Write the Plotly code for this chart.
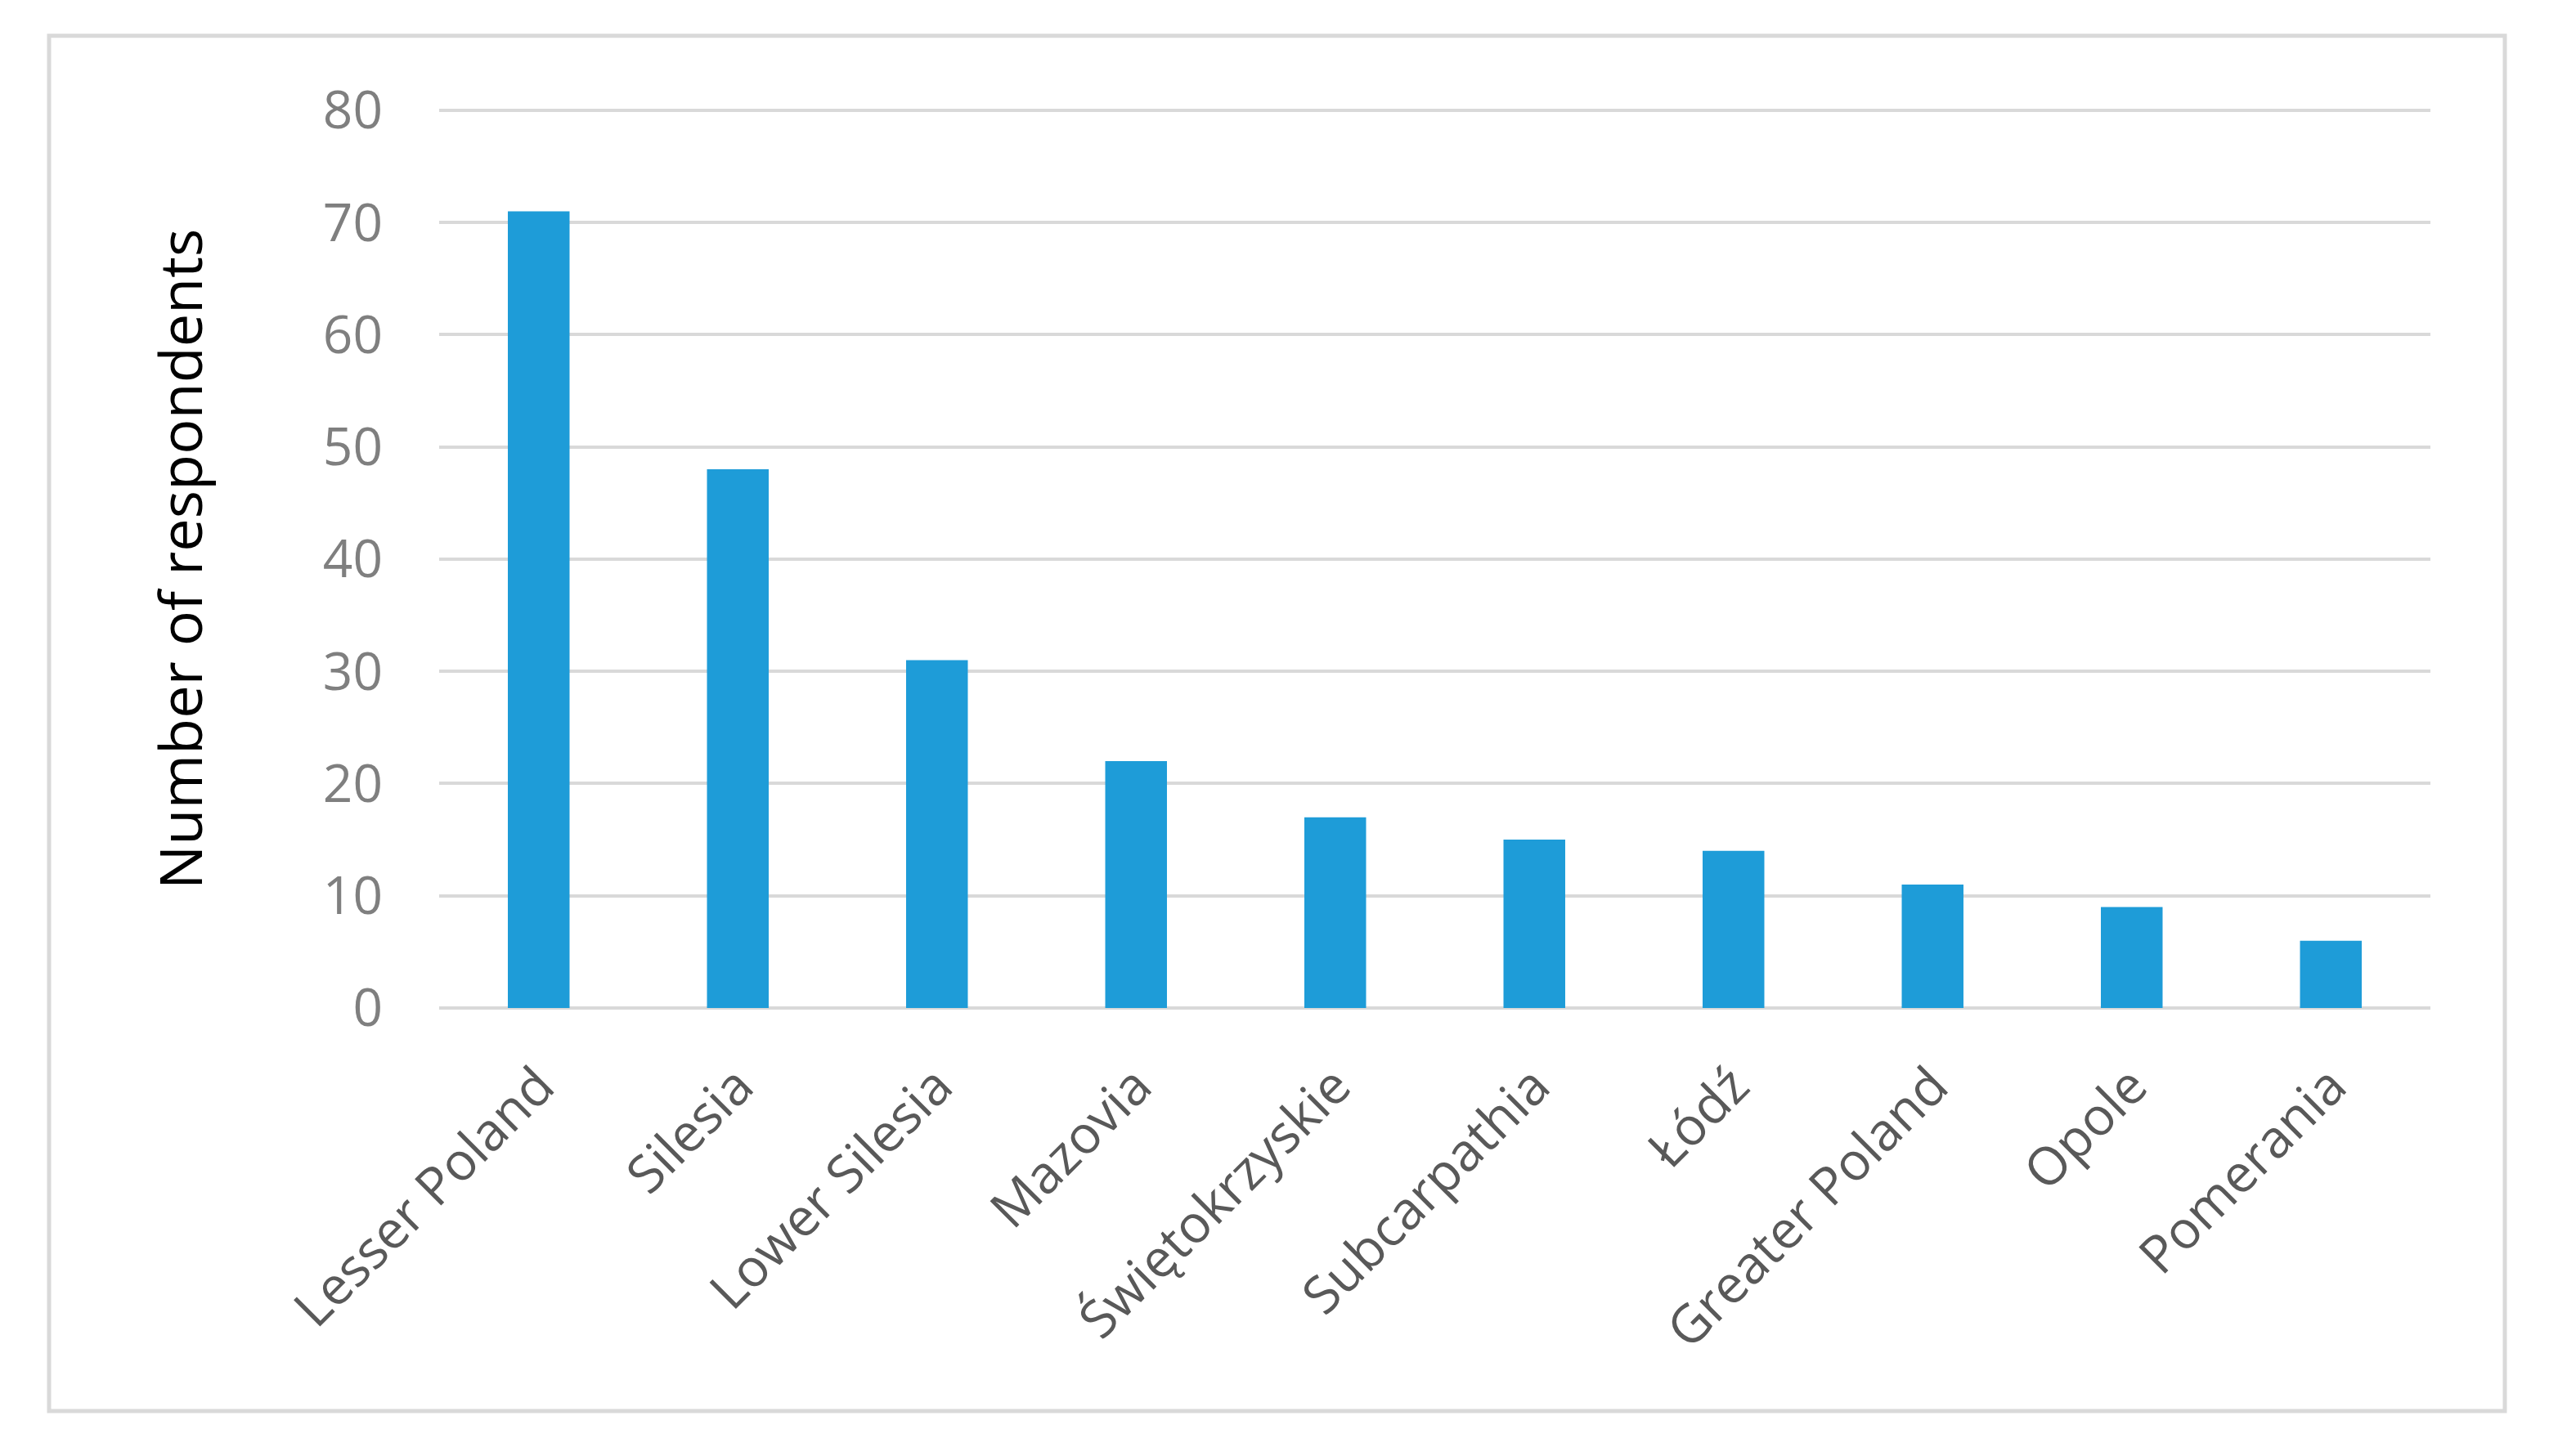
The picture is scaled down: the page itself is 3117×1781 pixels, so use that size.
import plotly.graph_objects as go

regions = ["Lesser Poland", "Silesia", "Lower Silesia", "Mazovia", "Świętokrzyskie",
           "Subcarpathia", "Łódź", "Greater Poland", "Opole", "Pomerania"]
respondents = [71, 48, 31, 22, 17, 15, 14, 11, 9, 6]
y_ticks = [0, 10, 20, 30, 40, 50, 60, 70, 80]
y_title = "Number of respondents"

W, H = 3117, 1781
OFF = 8  # browser body margin
YMAX = 80.5
px_per_unit = (1233 - 135) / 80
L, R = 537 - OFF, 145 + OFF
T = 135 - OFF - (YMAX - 80) * px_per_unit
B = 548 + OFF
pw, ph = W - L - R, H - T - B

fig = go.Figure(go.Bar(x=regions, y=respondents, marker=dict(color="#1E9CD8", line=dict(width=0)),
                       width=0.31))

FONT = "Open Sans"
fig.update_layout(
    width=W, height=H, margin=dict(l=L, r=R, t=T, b=B),
    paper_bgcolor="white", plot_bgcolor="white", showlegend=False,
    font=dict(family=FONT),
    xaxis=dict(showgrid=False, zeroline=False, showline=False, ticks="",
               tickangle=-45, tickfont=dict(size=64, color="#595959", family=FONT),
               ticklabelstandoff=44),
    yaxis=dict(range=[0, YMAX], tickvals=y_ticks, showgrid=True, gridcolor="#D9D9D9", gridwidth=4,
               zeroline=True, zerolinecolor="#D9D9D9", zerolinewidth=4, showline=False, ticks="",
               tickfont=dict(size=64, color="#7F7F7F", family=FONT), ticklabelstandoff=68),
    annotations=[dict(text=y_title, xref="paper", yref="paper",
                      x=(219 - OFF - L) / pw, y=((H - B) - (684 - OFF)) / ph,
                      textangle=-90, showarrow=False,
                      font=dict(size=72, color="black", family=FONT),
                      xanchor="center", yanchor="middle")],
    shapes=[dict(type="rect", xref="paper", yref="paper",
                 x0=(60 - OFF - L) / pw, x1=(3063 - OFF - L) / pw,
                 y0=((H - B) - (1726 - OFF)) / ph, y1=((H - B) - (44 - OFF)) / ph,
                 line=dict(color="#D9D9D9", width=5), fillcolor="rgba(0,0,0,0)", layer="below")],
)
fig.write_html("out.html")
